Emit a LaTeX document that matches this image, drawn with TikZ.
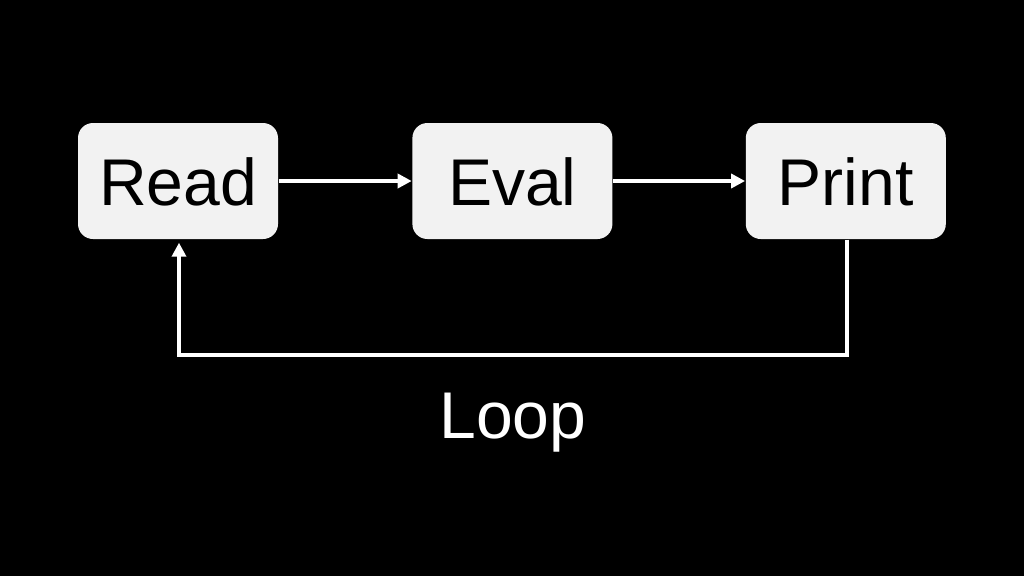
\documentclass[tikz,border=0pt]{standalone}
\usepackage{fontspec}
\setmainfont{Liberation Sans}
\usetikzlibrary{arrows.meta,positioning}
\usetikzlibrary{backgrounds}

\begin{document}
\begin{tikzpicture}[scale=1,
    stagebox/.style={draw=none, fill={rgb,255:red,242;green,242;blue,242}, rounded corners=0.15cm,
        minimum width=2cm, minimum height=1.16cm, inner sep=0pt,
        text height=0.48cm, text depth=0pt, font=\fontsize{18.8}{22}\selectfont},
    flow/.style={white, line width=0.035cm, -{Triangle[length=0.14cm,width=0.14cm]}}]
            \fill[black] (0,0) rectangle (10.24,5.76);
            \node[stagebox] (read) at (1.78,3.95) {Read};
            \node[stagebox, right=1.33cm of read] (eval) {Eval};
            \node[stagebox, right=1.32cm of eval] (print) {Print};
            \coordinate (loopright) at ([xshift=0.01cm]print.south |- 0,2.21);
            \coordinate (loopleft) at ([xshift=0.01cm]read.south |- 0,2.21);
            \draw[flow] (read) -- (eval);
            \draw[flow] (eval) -- (print);
            \draw[flow, shorten >=0.03cm] ([xshift=0.01cm]print.south) -- (loopright) -- node[below=0.22cm, text=white, text height=0.48cm, text depth=0pt, font=\fontsize{18.8}{22}\selectfont]{Loop} (loopleft) -- ([xshift=0.01cm]read.south);
            \end{tikzpicture}
\end{document}
